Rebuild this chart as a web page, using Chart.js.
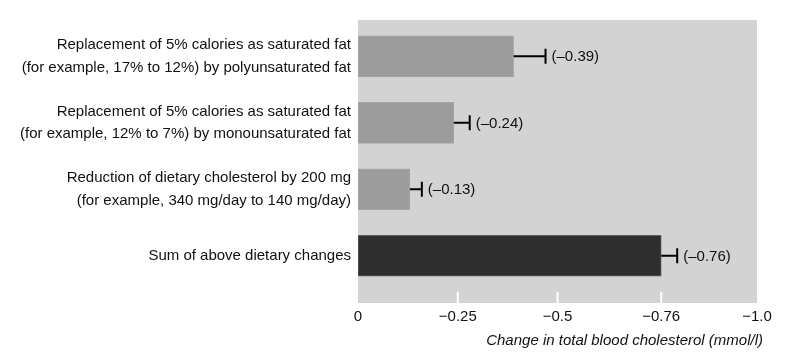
<!DOCTYPE html>
<html>
<head>
<meta charset="utf-8">
<script src="https://cdn.jsdelivr.net/npm/chart.js@4/dist/chart.umd.min.js"></script>
<style>
html,body{margin:0;padding:0;background:#fff;}
#wrap{width:794px;height:360px;position:relative;}
</style>
</head>
<body>
<div id="wrap"><canvas id="c" width="794" height="360"></canvas></div>
<script>
const categories = [
  ["Replacement of 5% calories as saturated fat", "(for example, 17% to 12%) by polyunsaturated fat"],
  ["Replacement of 5% calories as saturated fat", "(for example, 12% to 7%) by monounsaturated fat"],
  ["Reduction of dietary cholesterol by 200 mg", "(for example, 340 mg/day to 140 mg/day)"],
  ["Sum of above dietary changes"]
];
const values = [-0.39, -0.24, -0.13, -0.76];
const errors = [0.08, 0.04, 0.03, 0.04];
const xTickValues = [0, -0.25, -0.5, -0.76, -1.0];
const xTickLabels = ["0", "\u22120.25", "\u22120.5", "\u22120.76", "\u22121.0"];
const axisTitle = "Change in total blood cholesterol (mmol/l)";

const FONT = "'Liberation Sans Narrow', 'Liberation Sans', Arial, sans-serif";
const fmt = v => "(\u2013" + Math.abs(v).toFixed(2) + ")";

const extras = {
  id: 'extras',
  beforeDraw(chart) {
    const a = chart.chartArea, ctx = chart.ctx;
    ctx.save();
    ctx.fillStyle = '#d3d3d3';
    ctx.fillRect(a.left, a.top, a.right - a.left, a.bottom - a.top);
    const xs = chart.scales.x;
    ctx.strokeStyle = '#ffffff';
    ctx.lineWidth = 2;
    xTickValues.forEach(v => {
      const px = xs.getPixelForValue(v);
      if (Math.abs(px - a.left) < 2 || Math.abs(px - a.right) < 2) return;
      ctx.beginPath();
      ctx.moveTo(px, a.bottom);
      ctx.lineTo(px, a.bottom - 11);
      ctx.stroke();
    });
    ctx.restore();
  },
  afterDatasetsDraw(chart) {
    const ctx = chart.ctx, xs = chart.scales.x;
    const meta = chart.getDatasetMeta(0);
    ctx.save();
    ctx.strokeStyle = '#000';
    ctx.lineWidth = 2;
    ctx.fillStyle = '#111';
    ctx.font = "15px " + FONT;
    ctx.textBaseline = 'middle';
    meta.data.forEach((bar, i) => {
      const x0 = xs.getPixelForValue(values[i]);
      const x1 = xs.getPixelForValue(values[i] - errors[i]);
      const y = bar.y;
      ctx.beginPath();
      ctx.moveTo(x0, y); ctx.lineTo(x1, y);
      ctx.moveTo(x1, y - 7.5); ctx.lineTo(x1, y + 7.5);
      ctx.stroke();
      ctx.fillText(fmt(values[i]), x1 + 6, y + 1);
    });
    ctx.font = "italic 15px " + FONT;
    ctx.textAlign = 'right';
    ctx.fillText(axisTitle, 763, 341);
    ctx.restore();
  }
};

new Chart(document.getElementById('c'), {
  type: 'bar',
  data: {
    datasets: [{
      data: values.map((v, i) => ({x: v, y: i})),
      backgroundColor: ['#9c9c9c', '#9c9c9c', '#9c9c9c', '#2e2e2e'],
      borderColor: ['#a6a6a6', '#a6a6a6', '#a6a6a6', '#5e5e5e'],
      borderWidth: 1,
      borderSkipped: false,
      barThickness: 41
    }]
  },
  options: {
    indexAxis: 'y',
    responsive: false,
    animation: false,
    devicePixelRatio: 1,
    layout: {padding: {top: 20, right: 37, left: 0, bottom: 0}},
    plugins: {legend: {display: false}, tooltip: {enabled: false}},
    scales: {
      x: {
        type: 'linear',
        min: -1, max: 0, reverse: true,
        afterBuildTicks: s => { s.ticks = xTickValues.map(v => ({value: v})); },
        afterFit: s => { s.height = 57; },
        grid: {display: false, drawTicks: false},
        border: {display: false},
        ticks: {
          autoSkip: false, maxRotation: 0, padding: 5,
          color: '#111', font: {family: FONT, size: 15},
          callback: (v, idx) => xTickLabels[idx]
        }
      },
      y: {
        type: 'linear',
        offset: false,
        min: -0.546, max: 3.71, reverse: true,
        afterBuildTicks: s => { s.ticks = categories.map((_, i) => ({value: i})); },
        afterFit: s => { s.width = 358; },
        grid: {display: false, drawTicks: false, offset: false},
        border: {display: false},
        ticks: {
          autoSkip: false, padding: 7,
          color: '#111', font: {family: FONT, size: 15, lineHeight: 1.5},
          callback: (v, idx) => categories[idx]
        }
      }
    }
  },
  plugins: [extras]
});
</script>
</body>
</html>
